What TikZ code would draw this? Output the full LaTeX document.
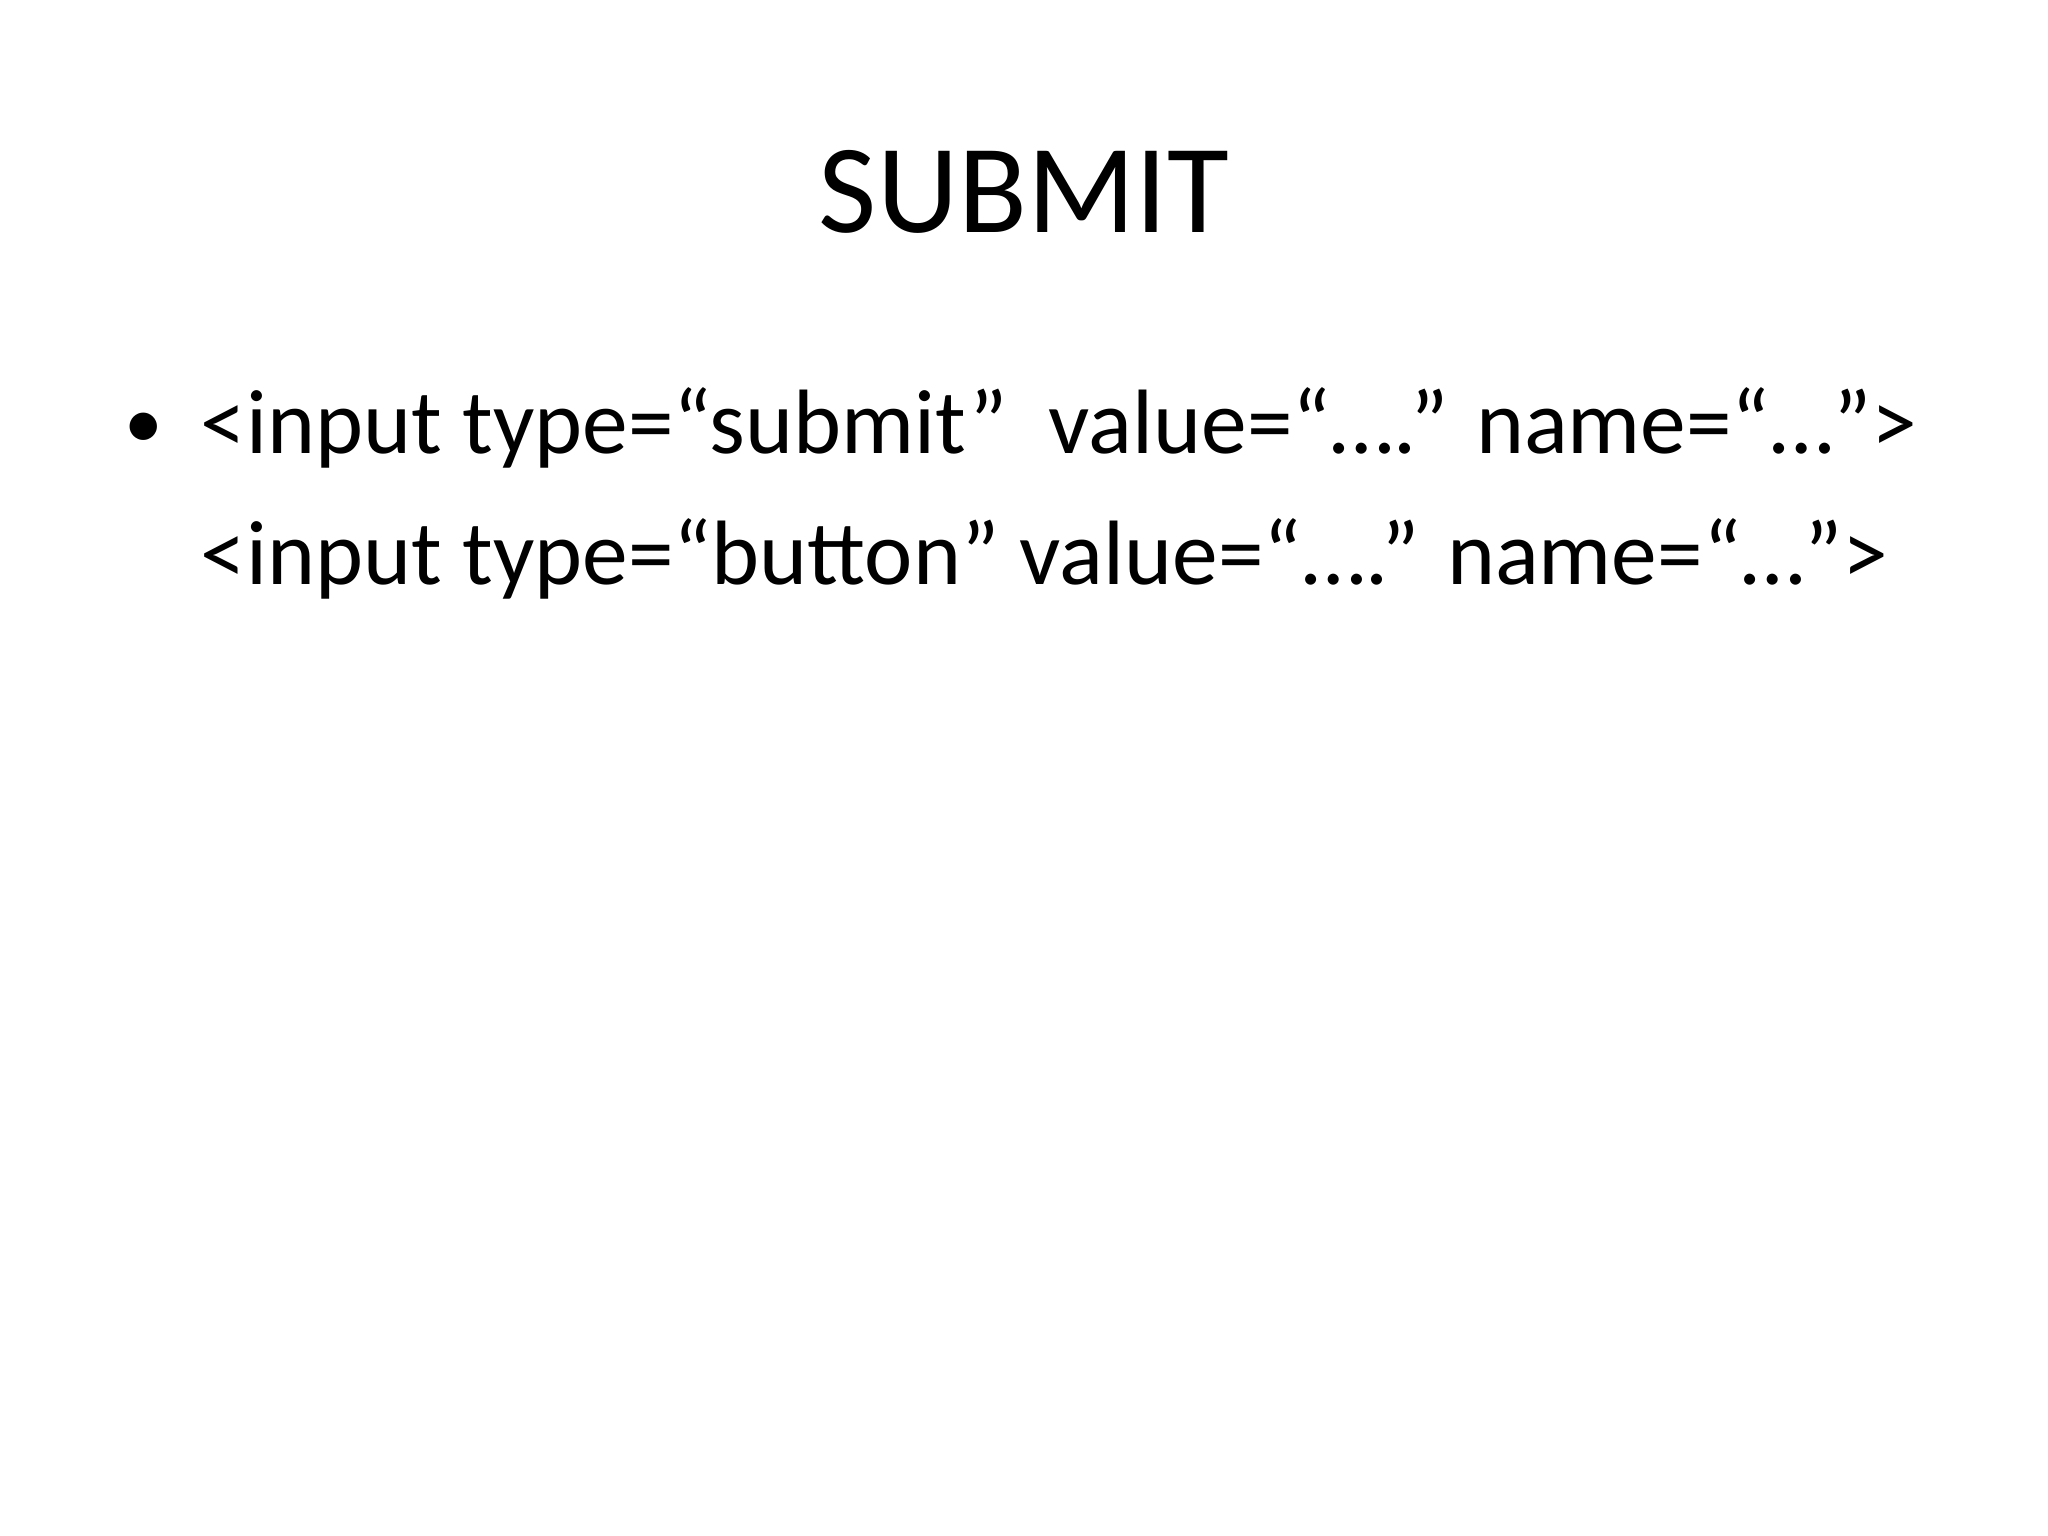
\documentclass[tikz,border=0pt]{standalone}
\usepackage{fontspec}
\setmainfont{Carlito}
\begin{document}
\begin{tikzpicture}[x=0.01cm,y=-0.01cm,
  body/.style={anchor=base west,inner sep=0pt,font=\fontsize{26pt}{32pt}\selectfont}]
\useasboundingbox (0,0) rectangle (2048,1536);
\node[anchor=base,inner sep=0pt,font=\fontsize{36pt}{43pt}\selectfont] (title) at (1024,232) {SUBMIT};
\node[anchor=base west,inner sep=0pt,font=\fontsize{22pt}{26pt}\selectfont] (bul) at (124,448) {\textbullet};
\node[body] (l1) at (200,453) {<input type=“submit”\ \ value=“….” name=“…”>};
\node[body] (l2) at (200,584) {<input type=“button” value=“….” name=“…”>};
\end{tikzpicture}
\end{document}
